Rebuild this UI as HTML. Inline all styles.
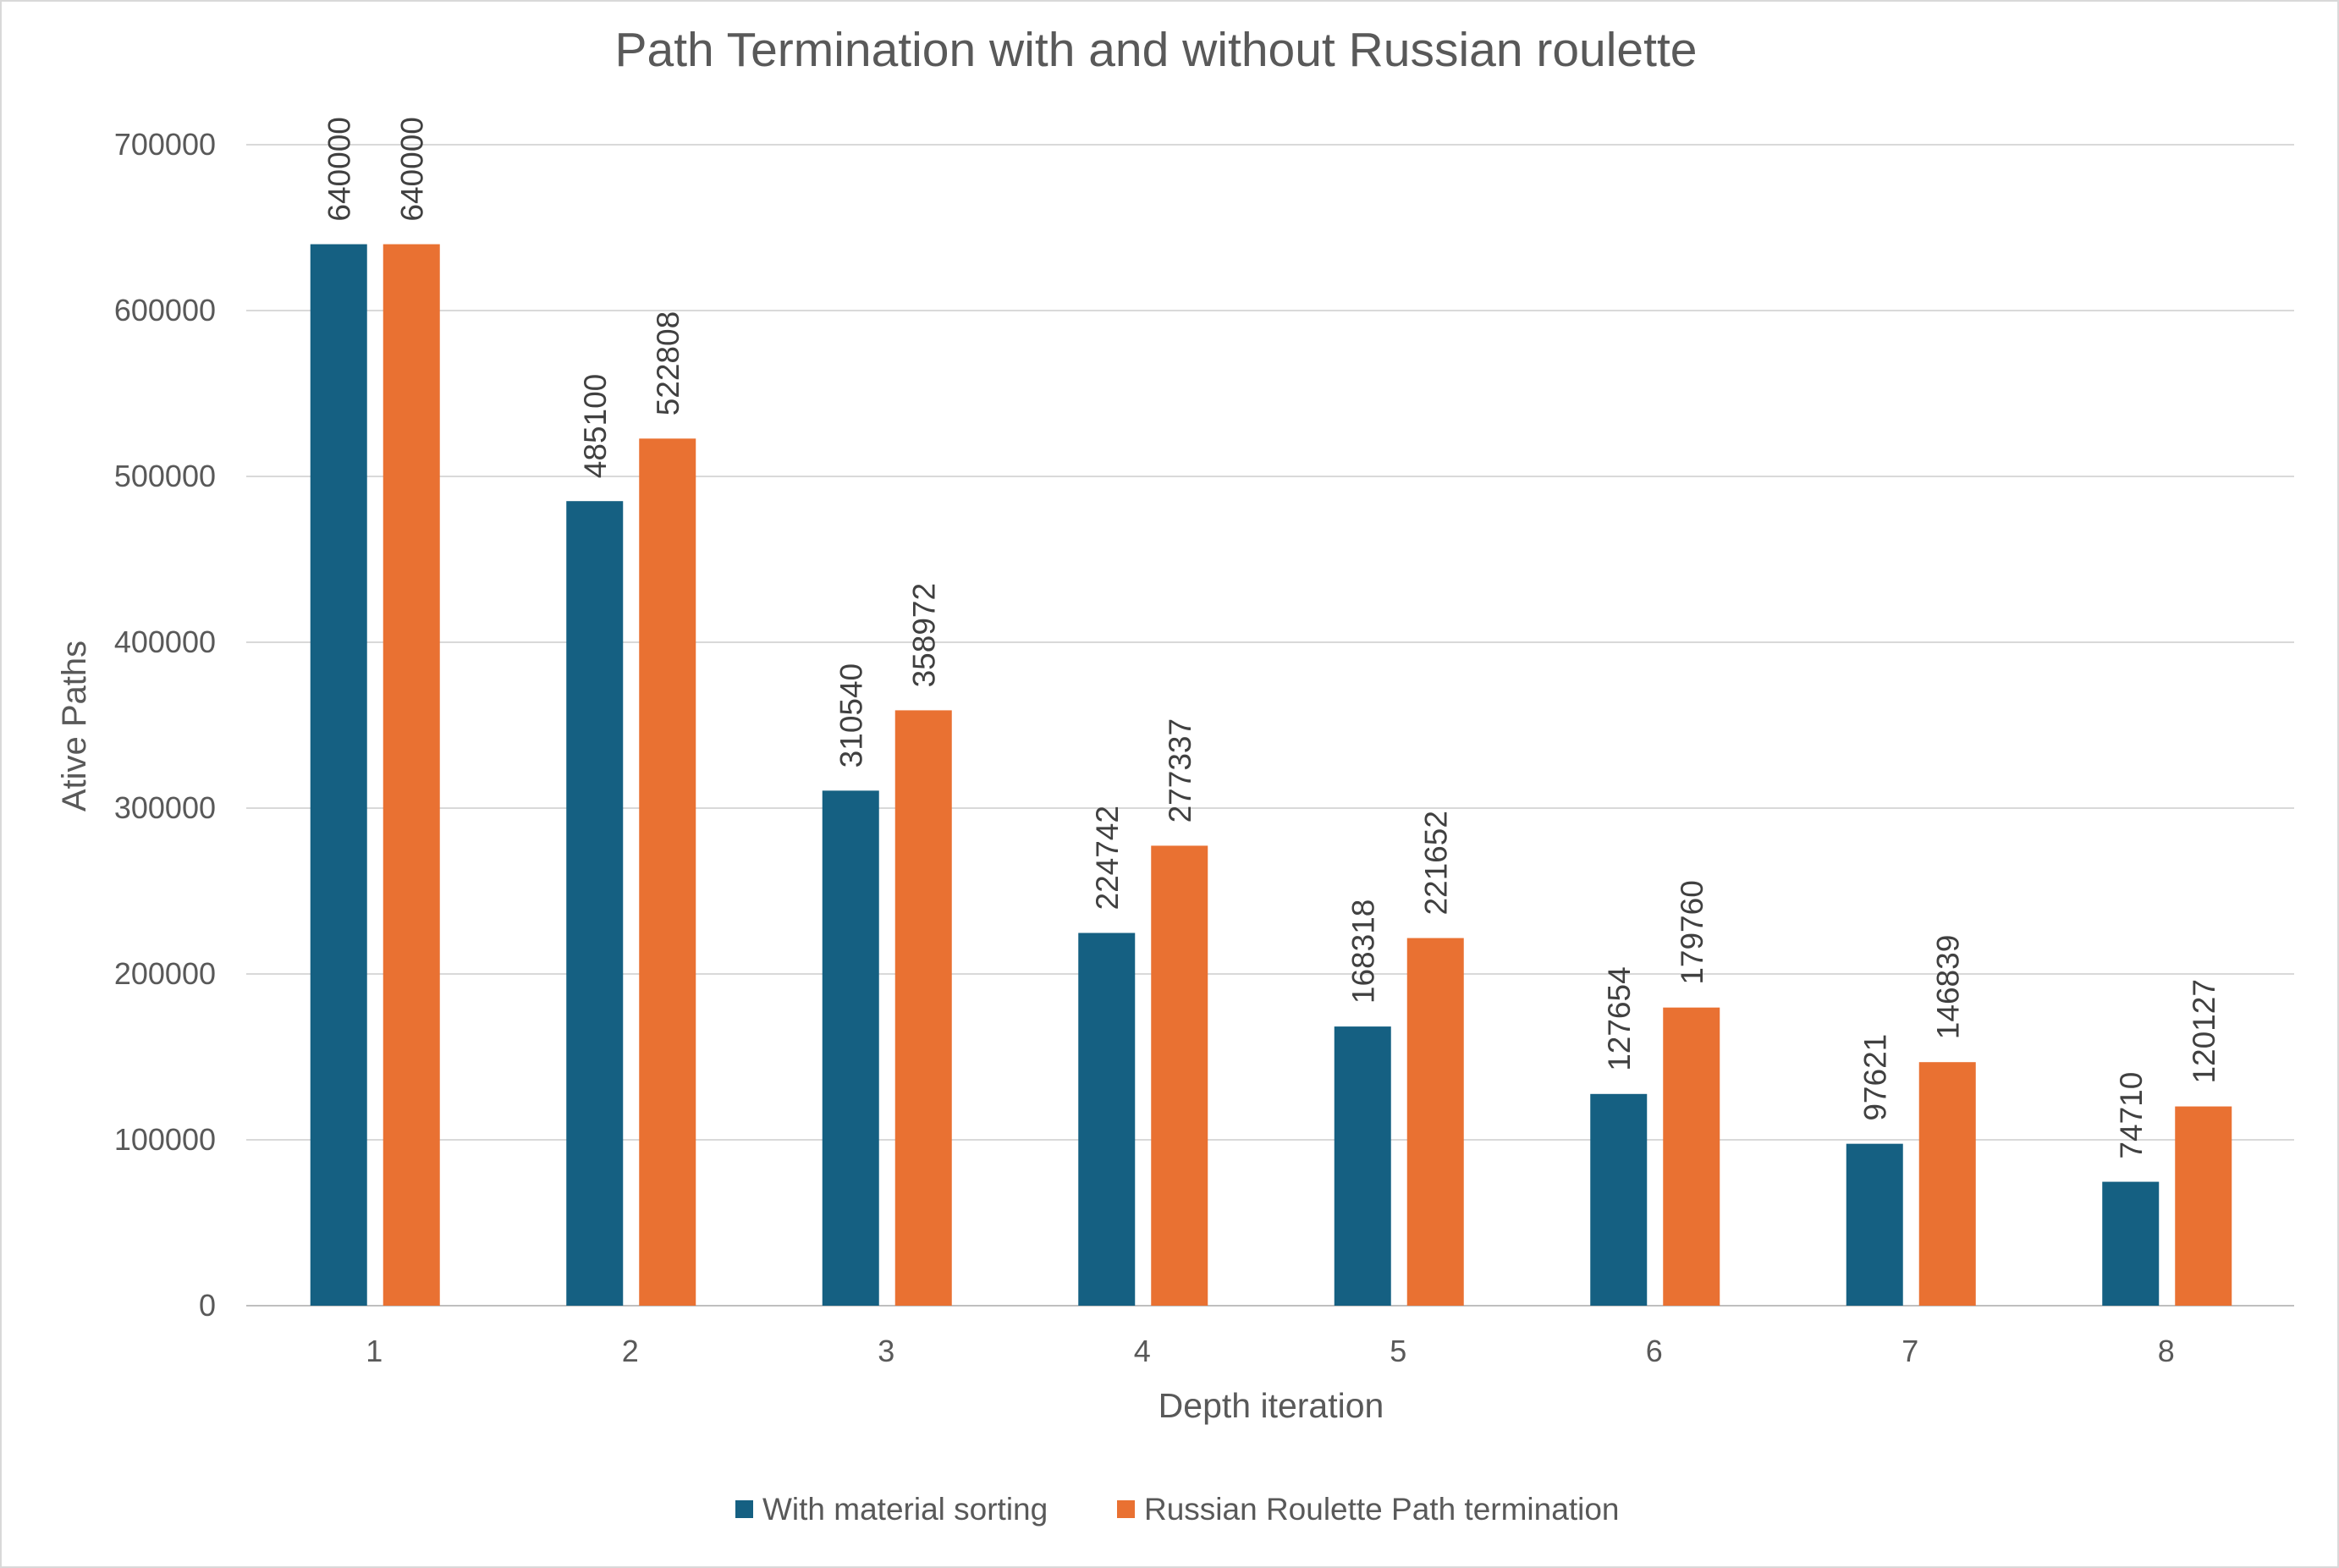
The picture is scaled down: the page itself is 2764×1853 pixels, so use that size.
<!DOCTYPE html>
<html><head><meta charset="utf-8"><style>
html,body{margin:0;padding:0;background:#fff;}
svg{display:block;font-family:"Liberation Sans",sans-serif;}
</style></head><body>
<svg id="chart" width="2764" height="1853" viewBox="0 0 2764 1853">
<rect x="1" y="1" width="2762" height="1851" fill="#fff" stroke="#d9d9d9" stroke-width="2"/>
<text x="1366" y="78" text-anchor="middle" font-size="57" fill="#595959">Path Termination with and without Russian roulette</text>
<g id="grid"></g>
<g id="yticks"></g>
<g id="bars"></g>
<g id="xticks"></g>
<text x="1502" y="1675" text-anchor="middle" font-size="41" fill="#595959">Depth iteration</text>
<text x="0" y="0" transform="translate(101,858) rotate(-90)" text-anchor="middle" font-size="40" fill="#595959">Ative Paths</text>
<g>
<g>
<rect x="869" y="1773" width="21" height="21" fill="#156082"/>
<text x="901" y="1796" font-size="37" fill="#595959">With material sorting</text></g>
<g>
<rect x="1320" y="1773" width="21" height="21" fill="#E97132"/>
<text x="1352" y="1796" font-size="37" fill="#595959">Russian Roulette Path termination</text></g>
</g>
</svg>
<script>
const categories=["1","2","3","4","5","6","7","8"];
const seriesSorting=[640000,485100,310540,224742,168318,127654,97621,74710];
const seriesRoulette=[640000,522808,358972,277337,221652,179760,146839,120127];
const yTicks=[0,100000,200000,300000,400000,500000,600000,700000];
const NS="http://www.w3.org/2000/svg";
const L=291,R=2711,Y0=1543,Y1=171,YMAX=700000;
const y=v=>Y0-(v/YMAX)*(Y0-Y1);
const band=(R-L)/categories.length;
const xc=i=>L+band*(i+0.5);
function mk(t,a,p){const e=document.createElementNS(NS,t);for(const k in a)e.setAttribute(k,a[k]);p.appendChild(e);return e;}
const grid=document.getElementById('grid'),yt=document.getElementById('yticks'),bars=document.getElementById('bars'),xt=document.getElementById('xticks');
yTicks.forEach(v=>{
  const l=mk('line',{x1:L,x2:R,y1:y(v),y2:y(v),stroke:v===0?'#bfbfbf':'#d9d9d9','stroke-width':2},grid);
  
  
  const t=mk('text',{x:255,y:y(v)+12,'text-anchor':'end','font-size':36,fill:'#595959'},yt);
  t.textContent=v;
  
  
});
const BW=67;
categories.forEach((c,i)=>{
  [[seriesSorting,'#156082',-42,'bar-sorting'],[seriesRoulette,'#E97132',44,'bar-roulette']].forEach(([s,col,off,nm])=>{
    const cx=xc(i)+off,v=s[i];
    const r=mk('rect',{x:cx-BW/2,y:y(v),width:BW,height:Y0-y(v),fill:col},bars);
    
    
    const t=mk('text',{transform:`translate(${cx+13},${y(v)-27}) rotate(-90)`,'font-size':37,fill:'#404040'},bars);
    t.textContent=v;
    
    
  });
  const t=mk('text',{x:xc(i),y:1609,'text-anchor':'middle','font-size':36,fill:'#595959'},xt);
  t.textContent=c;
  
  
});
</script>
</body></html>
